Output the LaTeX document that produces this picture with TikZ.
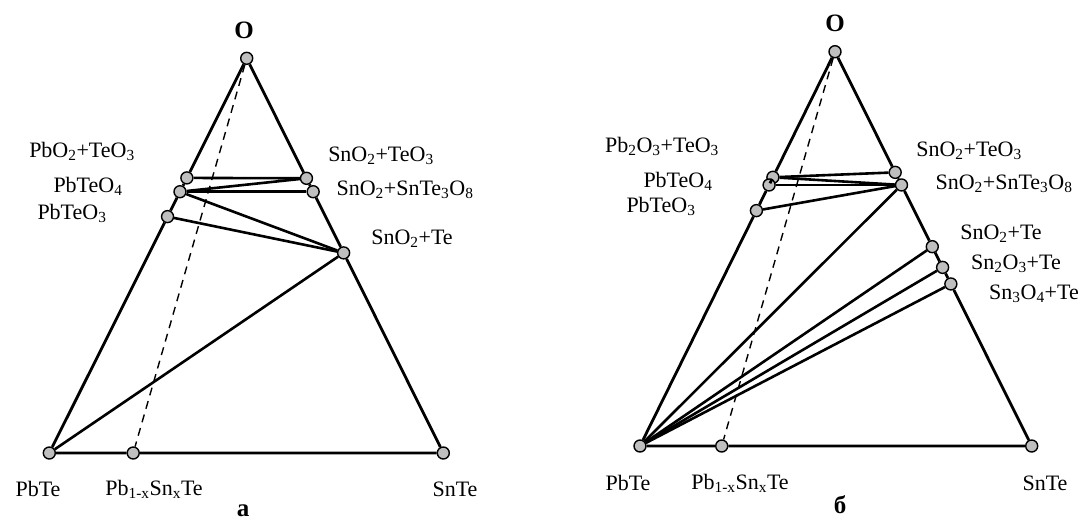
\documentclass[tikz,border=0pt]{standalone}
\usepackage{fontspec}
\setmainfont{Liberation Serif}
\usetikzlibrary{calc}

\tikzset{
  pt/.style={circle,draw,line width=1.4pt,fill=black!25,minimum size=12pt,inner sep=0pt,
    path picture={\fill (path picture bounding box.center) circle (3pt);}},
  side/.style={line width=2.8pt},
  tieline/.style={line width=2.6pt},
  lbl/.style={font=\fontsize{22}{26}\selectfont,inner sep=0pt},
  panel/.style={font=\fontsize{25}{28}\selectfont\bfseries,inner sep=0pt}
}

\begin{document}
\begin{tikzpicture}[x=1pt,y=-1pt]
\useasboundingbox (0,0) rectangle (1089,520);

% --- panel a
\node[pt] (Oa) at (246.7,58.3) {};
\node[pt] (PbTea) at (49.3,453) {};
\node[pt] (SnTea) at (443.3,453) {};
\node[pt] (PbOTeOa) at ($(Oa)!0.303!(PbTea)$) {};
\node[pt] (PbTeOfa) at ($(Oa)!0.338!(PbTea)$) {};
\node[pt] (PbTeOta) at ($(Oa)!0.401!(PbTea)$) {};
\node[pt] (SnOTeOa) at ($(Oa)!0.304!(SnTea)$) {};
\node[pt] (SnOSnTea) at ($(Oa)!0.338!(SnTea)$) {};
\node[pt] (SnOTea) at ($(Oa)!0.493!(SnTea)$) {};
\node[pt] (PbSnTea) at ($(PbTea)!0.213!(SnTea)$) {};

\draw[side] (Oa) -- (PbOTeOa) -- (PbTeOfa) -- (PbTeOta) -- (PbTea) -- (PbSnTea) -- (SnTea)
  -- (SnOTea) -- (SnOSnTea) -- (SnOTeOa) -- (Oa);
\draw[dashed,line width=1.4pt,dash pattern=on 8pt off 6pt] (Oa) -- (PbSnTea);
\draw[tieline] (PbOTeOa) -- (SnOTeOa);
\draw[tieline] (PbTeOfa) -- (SnOTeOa);
\draw[tieline] (PbTeOfa) -- (SnOSnTea);
\draw[tieline] (PbTeOfa) -- (SnOTea);
\draw[tieline] (PbTeOta) -- (SnOTea);
\draw[tieline] (PbTea) -- (SnOTea);

\node[panel] (tOa) at (244,30) {O};
\node[lbl] (tPbOTeOa) at (82,151) {PbO\textsubscript{2}+TeO\textsubscript{3}};
\node[lbl] (tPbTeOfa) at (88,186) {PbTeO\textsubscript{4}};
\node[lbl] (tPbTeOta) at (72,213) {PbTeO\textsubscript{3}};
\node[lbl] (tSnOTeOa) at (381,156) {SnO\textsubscript{2}+TeO\textsubscript{3}};
\node[lbl] (tSnOSnTea) at (405,190) {SnO\textsubscript{2}+SnTe\textsubscript{3}O\textsubscript{8}};
\node[lbl] (tSnOTea) at (412,239) {SnO\textsubscript{2}+Te};
\node[lbl] (tPbTea) at (38,489) {PbTe};
\node[lbl] (tPbSnTea) at (154,489) {Pb\textsubscript{1-x}Sn\textsubscript{x}Te};
\node[lbl] (tSnTea) at (455,489) {SnTe};
\node[panel] (capa) at (243,511) {а};

% --- panel b
\node[pt] (Ob) at (835,51.7) {};
\node[pt] (PbTeb) at (640,446) {};
\node[pt] (SnTeb) at (1031.7,446) {};
\node[pt] (PbOTeOb) at ($(Ob)!0.3185!(PbTeb)$) {};
\node[pt] (PbTeOfb) at ($(Ob)!0.338!(PbTeb)$) {};
\node[pt] (PbTeOtb) at ($(Ob)!0.403!(PbTeb)$) {};
\node[pt] (SnOTeOb) at ($(Ob)!0.306!(SnTeb)$) {};
\node[pt] (SnOSnTeb) at ($(Ob)!0.338!(SnTeb)$) {};
\node[pt] (SnOTeb) at ($(Ob)!0.4945!(SnTeb)$) {};
\node[pt] (SntOTeb) at ($(Ob)!0.547!(SnTeb)$) {};
\node[pt] (SnthOTeb) at ($(Ob)!0.589!(SnTeb)$) {};
\node[pt] (PbSnTeb) at ($(PbTeb)!0.2086!(SnTeb)$) {};

\draw[side] (Ob) -- (PbOTeOb) -- (PbTeOfb) -- (PbTeOtb) -- (PbTeb) -- (PbSnTeb) -- (SnTeb)
  -- (SnthOTeb) -- (SntOTeb) -- (SnOTeb) -- (SnOSnTeb) -- (SnOTeOb) -- (Ob);
\draw[dashed,line width=1.4pt,dash pattern=on 8pt off 6pt] (Ob) -- (PbSnTeb);
\draw[tieline] (PbOTeOb) -- (SnOTeOb);
\draw[tieline] (PbOTeOb) -- (SnOSnTeb);
\draw[tieline] (PbTeOfb) -- (SnOSnTeb);
\draw[tieline] (PbTeOtb) -- (SnOSnTeb);
\draw[tieline] (PbTeb) -- (SnOSnTeb);
\draw[tieline] (PbTeb) -- (SnOTeb);
\draw[tieline] (PbTeb) -- (SntOTeb);
\draw[tieline] (PbTeb) -- (SnthOTeb);

\node[panel] (tOb) at (835,23) {O};
\node[lbl] (tPbOTeOb) at (662,146) {Pb\textsubscript{2}O\textsubscript{3}+TeO\textsubscript{3}};
\node[lbl] (tPbTeOfb) at (678,181) {PbTeO\textsubscript{4}};
\node[lbl] (tPbTeOtb) at (661,206) {PbTeO\textsubscript{3}};
\node[lbl] (tSnOTeOb) at (969,151) {SnO\textsubscript{2}+TeO\textsubscript{3}};
\node[lbl] (tSnOSnTeb) at (1004,184) {SnO\textsubscript{2}+SnTe\textsubscript{3}O\textsubscript{8}};
\node[lbl] (tSnOTeb) at (1001,234) {SnO\textsubscript{2}+Te};
\node[lbl] (tSntOTeb) at (1016,264) {Sn\textsubscript{2}O\textsubscript{3}+Te};
\node[lbl] (tSnthOTeb) at (1034,294) {Sn\textsubscript{3}O\textsubscript{4}+Te};
\node[lbl] (tPbTeb) at (628,483) {PbTe};
\node[lbl] (tPbSnTeb) at (740,483) {Pb\textsubscript{1-x}Sn\textsubscript{x}Te};
\node[lbl] (tSnTeb) at (1045,483) {SnTe};
\node[panel] (capb) at (840,505) {б};
\end{tikzpicture}
\end{document}
